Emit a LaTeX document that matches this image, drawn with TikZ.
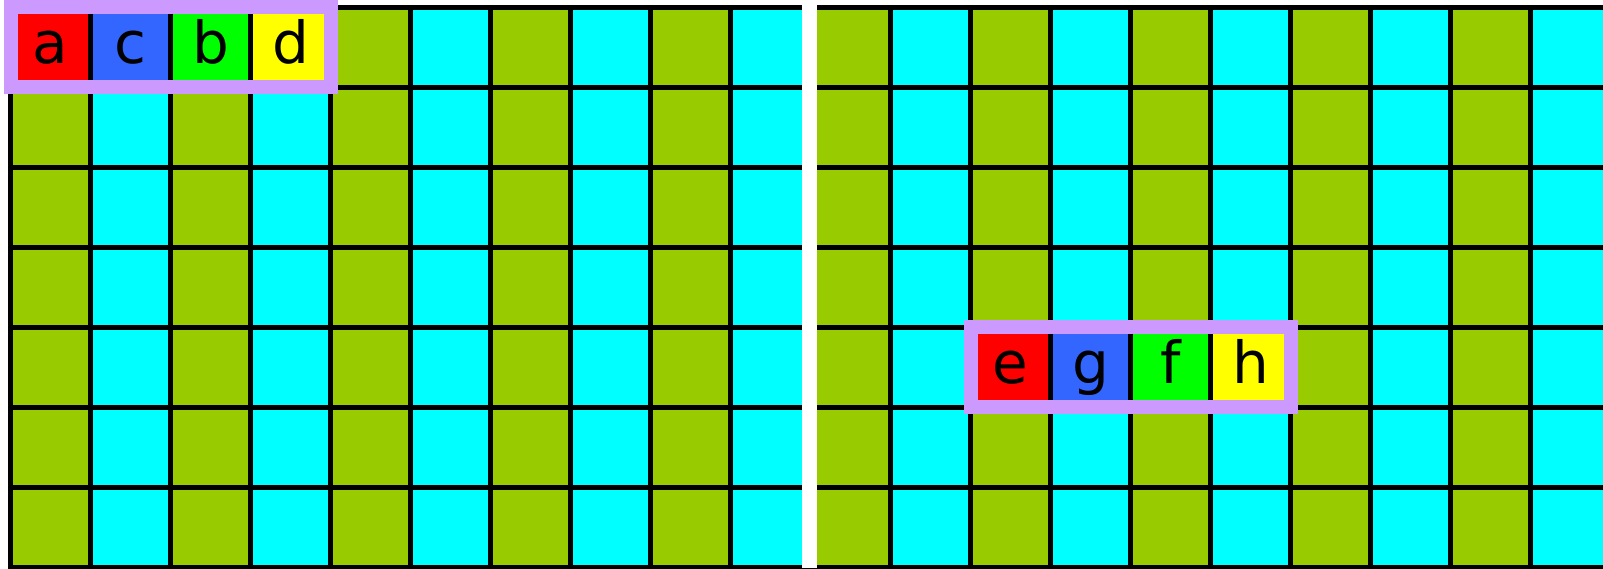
\documentclass[tikz,border=0pt]{standalone}
\usepackage{fontspec}
\setmainfont{DejaVu Sans}
\definecolor{gridgreen}{RGB}{153,204,0}
\definecolor{gridcyan}{RGB}{0,255,255}
\definecolor{lav}{RGB}{204,153,255}
\definecolor{cred}{RGB}{255,0,0}
\definecolor{cblue}{RGB}{51,102,255}
\definecolor{cgreen}{RGB}{0,255,0}
\definecolor{cyellow}{RGB}{255,255,0}
\begin{document}
\begin{tikzpicture}[x=1pt,y=-1pt,
  gridline/.style={black,line width=5pt},
  labelframe/.style={draw=lav,line width=14pt},
  letter/.style={font=\fontsize{58}{58}\selectfont,anchor=base,inner sep=0pt}]
\useasboundingbox (0,0) rectangle (1603,568);
\clip (0,0) rectangle (1603,568);
\fill[white] (0,0) rectangle (1603,568);
% stripes
\foreach \i in {0,...,19}{
  \ifodd\i \def\cc{gridcyan}\else\def\cc{gridgreen}\fi
  \fill[\cc] ({10.5+80*\i},7) rectangle ++(80,560);
}
% grid lines
\foreach \j in {0,...,7}
  \draw[gridline] (8,{7+80*\j}) -- (1603,{7+80*\j});
\foreach \i in {0,...,19}
  \draw[gridline] ({10.5+80*\i},4.5) -- ({10.5+80*\i},569.5);
% gap between the two grids
\fill[white] (802,0) rectangle (817,568);
% left label box
\fill[cred]    (10.5,7)  rectangle (90.5,87);
\fill[cblue]   (90.5,7)  rectangle (170.5,87);
\fill[cgreen]  (170.5,7) rectangle (250.5,87);
\fill[cyellow] (250.5,7) rectangle (330.5,87);
\foreach \x in {90.5,170.5,250.5}
  \draw[gridline] (\x,7) -- (\x,87);
\draw[labelframe] (10.5,7) rectangle (330.5,87);
\node[letter] (la) at (50.5,63.5) {a};
\node[letter] (lc) at (130.5,63.5) {c};
\node[letter] (lb) at (210.5,63.5) {b};
\node[letter] (ld) at (290.5,63.5) {d};
% right label box
\fill[cred]    (970.5,327)  rectangle (1050.5,407);
\fill[cblue]   (1050.5,327) rectangle (1130.5,407);
\fill[cgreen]  (1130.5,327) rectangle (1210.5,407);
\fill[cyellow] (1210.5,327) rectangle (1290.5,407);
\foreach \x in {1050.5,1130.5,1210.5}
  \draw[gridline] (\x,327) -- (\x,407);
\draw[labelframe] (970.5,327) rectangle (1290.5,407);
\node[letter] (re) at (1010.5,383.5) {e};
\node[letter] (rg) at (1090.5,383.5) {g};
\node[letter] (rf) at (1170.5,383.5) {f};
\node[letter] (rh) at (1250.5,383.5) {h};
\end{tikzpicture}
\end{document}
